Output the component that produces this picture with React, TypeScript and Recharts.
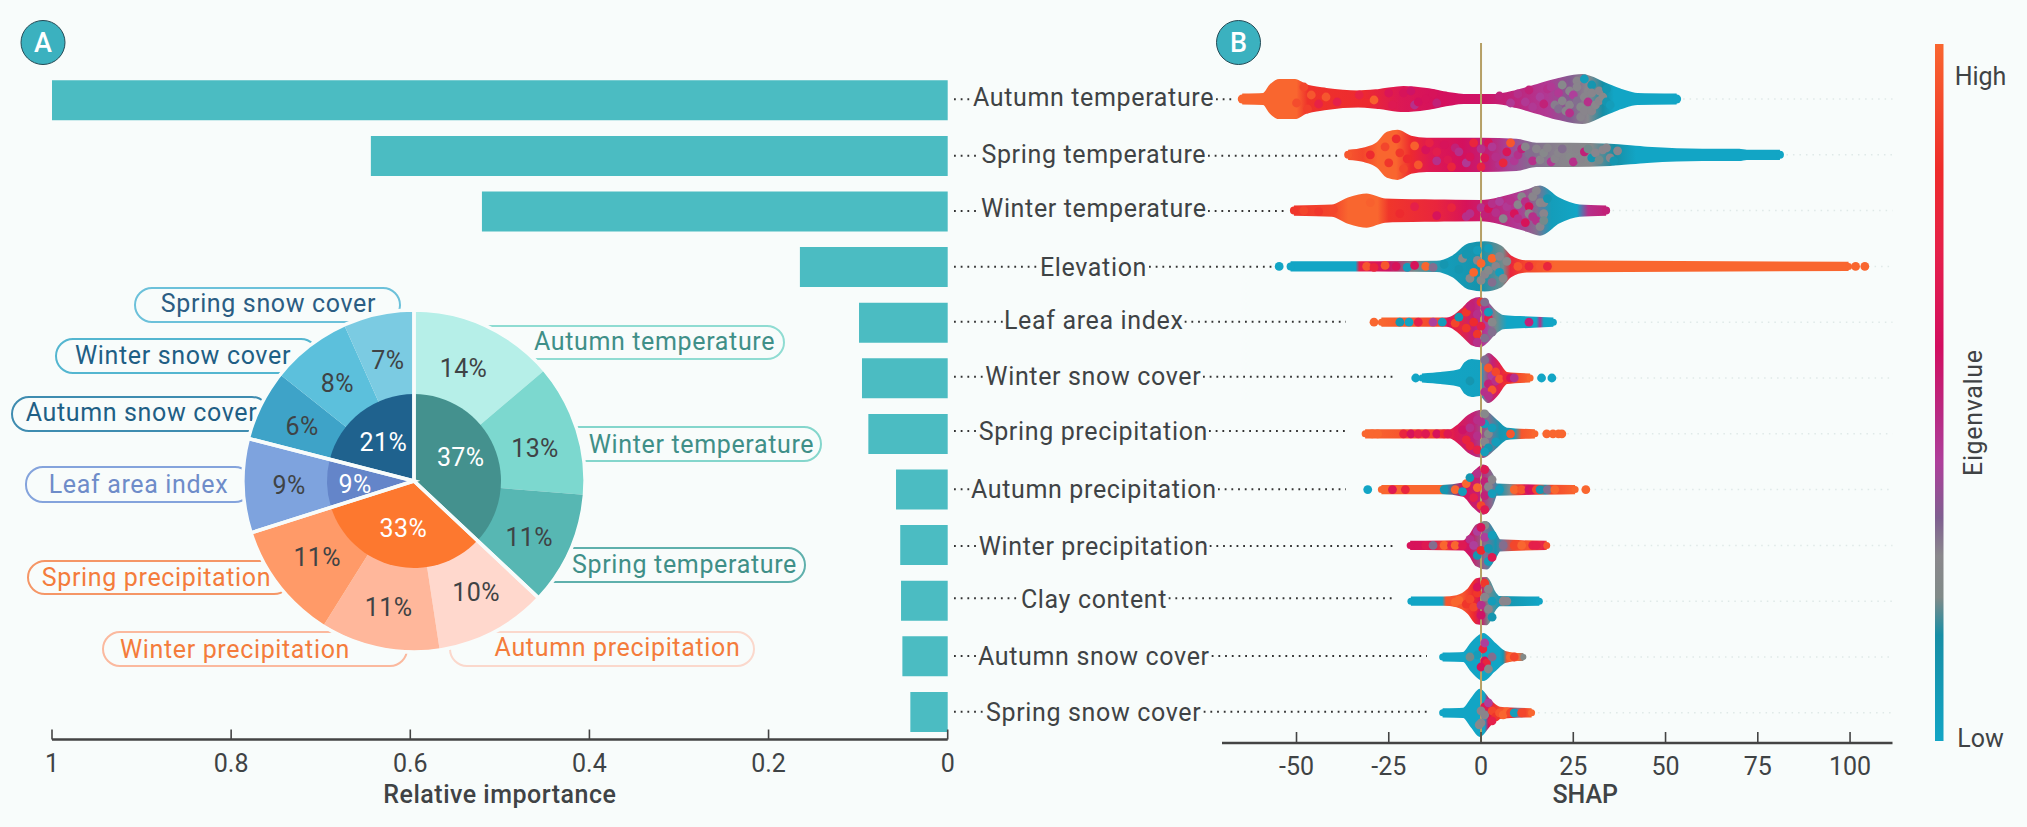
import React from 'react';
import {
  BarChart, Bar, XAxis, YAxis, PieChart, Pie, Cell, ComposedChart, Area, Scatter, ReferenceLine,
} from 'recharts';

// ---------- data ----------
const FEATURES = ['Autumn temperature','Spring temperature','Winter temperature','Elevation','Leaf area index','Winter snow cover','Spring precipitation','Autumn precipitation','Winter precipitation','Clay content','Autumn snow cover','Spring snow cover'];
const IMPORTANCE = [1, 0.644, 0.52, 0.165, 0.099, 0.0957, 0.0886, 0.0577, 0.053, 0.0521, 0.0506, 0.0417];
const IMPORTANCE_TICKS = [1, 0.8, 0.6, 0.4, 0.2, 0];
const SHAP_TICKS = [-50, -25, 0, 25, 50, 75, 100];

const PIE_NAMES = ['Autumn temperature','Winter temperature','Spring temperature','Autumn precipitation','Winter precipitation','Spring precipitation','Leaf area index','Autumn snow cover','Winter snow cover','Spring snow cover'];
const PIE_OUTER = [13.8, 12.5, 10.7, 10.6, 11.3, 11.2, 8.9, 6.7, 7.6, 6.7];
const PIE_OUTER_TEXT = ['14%','13%','11%','10%','11%','11%','9%','6%','8%','7%'];
const PIE_INNER = [37, 33.1, 8.9, 21];
const PIE_INNER_TEXT = ['37%','33%','9%','21%'];

// shap value, half thickness of the swarm in px
const SWARM_1 = [[-64.7,4.5],[-59,5],[-57,14],[-54.7,19],[-50.4,19],[-47.6,14],[-41.9,10],[-33.3,7.5],[-27.6,9],[-21,12],[-14.7,10],[-9,6],[-4.7,4],[3.9,4],[9.6,8],[15.3,14],[21,20],[27.4,24],[33.9,15],[38,9],[42.4,5],[53,4.5]];
const SWARM_2 = [[-36,4],[-32,6],[-28,12],[-25.4,22],[-22.6,24],[-19,18],[-14.7,16],[0,16],[9.6,15],[15,11],[24,11],[35,10],[45,7],[60,5],[70,5],[72,4],[81,4]];
const SWARM_3 = [[-50.7,4],[-40.4,5],[-36,12],[-31,16],[-26,11],[-12,10],[0,9.5],[6.7,14],[12.4,20],[16,24],[21,12],[26.7,5],[33.9,4]];
const SWARM_4 = [[-51.6,4],[-33,4],[-12,4.5],[-7.6,10],[-3.3,22],[1,24],[5.3,20],[8,10],[12.4,5],[99.6,3.5]];
const SWARM_5 = [[-27,3.5],[-9.3,3.5],[-7,7],[-4.8,14],[-2.5,22],[-0.3,24],[1.5,20],[3.8,11],[6,6],[10.6,5],[19.6,3.5]];
const SWARM_6 = [[-16,3.5],[-11,5],[-5.7,8],[-4.3,15],[-2.5,18],[-0.3,17],[2,24],[4.3,17],[7,5],[13.3,3.5]];
const SWARM_7 = [[-31.4,3.5],[-8.4,3.5],[-6,9],[-3.4,18],[0.6,23],[4.2,13],[7,5],[14.6,3.5]];
const SWARM_8 = [[-27,3.5],[-10.7,3.5],[-4.8,6],[-2,17],[0.6,24],[3,15],[4.2,5],[25.5,3.5]];
const SWARM_9 = [[-19.2,3.5],[-4.8,4],[-3,10],[-1.2,20],[1.5,23],[3.8,12],[5.1,5],[17.8,3.5]];
const SWARM_10 = [[-19,3.5],[-10.2,3.5],[-6.6,5],[-3.4,12],[-1.2,22],[1.5,23],[3.8,8],[5,4],[15.8,3.5]];
const SWARM_11 = [[-10.4,3.5],[-4.8,4],[-2.5,14],[0.6,23],[3.5,14],[6.5,5],[10,3],[11.5,3]];
const SWARM_12 = [[-10.4,3.5],[-4.8,4],[-2.5,14],[-0.3,23],[2.4,12],[5.1,5],[13.7,3.5]];
const SWARMS = [SWARM_1,SWARM_2,SWARM_3,SWARM_4,SWARM_5,SWARM_6,SWARM_7,SWARM_8,SWARM_9,SWARM_10,SWARM_11,SWARM_12];

// shap value, eigenvalue colour position (0 low .. 1 high)
const TONE_1 = [[-64.7,1],[-50,1],[-47,.84],[-32,.8],[-22,.64],[-10,.58],[0,.55],[10,.48],[18,.42],[24,.33],[29,.26],[33,.15],[36,0],[53,0]];
const TONE_2 = [[-36,.95],[-32,.9],[-28,1],[-23,1],[-19,.8],[-14,.65],[-5,.58],[2,.5],[8,.38],[14,.3],[22,.27],[30,.25],[36,.15],[42,0],[81,0]];
const TONE_3 = [[-50.7,.85],[-40,.9],[-36,1],[-28,1],[-25,.85],[-12,.75],[-4,.6],[3,.5],[10,.42],[15,.3],[19,.05],[26,0],[29,.45],[33.9,.5]];
const TONE_4 = [[-51.6,0],[-34,0],[-33,.7],[-25,.55],[-18,.2],[-10,.05],[0,.12],[6,.2],[8,.75],[12,.9],[20,1],[99.6,1]];
const TONE_5 = [[-27,1],[-11,.9],[-9,.6],[-6,.75],[-2,.5],[1.5,.4],[4,.2],[7,0],[15,0],[16,.45],[17,0],[19.6,0]];
const TONE_6 = [[-16,0],[0,.02],[1,.3],[3,.5],[5,.7],[7,.85],[13.3,1]];
const TONE_7 = [[-31.4,1],[-12,.9],[-7,.65],[-2,.5],[2,.3],[5,.1],[9,.05],[11,.95],[14.6,1]];
const TONE_8 = [[-27,1],[-11,1],[-9.5,.1],[-5,.6],[0,.5],[3,.3],[5,.1],[8,.25],[10,.9],[13,.55],[16,.9],[17.5,.1],[19,.9],[25.5,1]];
const TONE_9 = [[-19.2,.6],[-13,.62],[-10,.9],[-7,.65],[-3,.55],[1,.3],[4,.1],[6,.3],[9,.9],[13,.95],[17,.7],[17.8,.95]];
const TONE_10 = [[-19,0],[-10.5,0],[-9.5,.95],[-5,.95],[-2,.8],[0,.55],[2,.2],[5,.05],[6,.2],[7,.1],[15.8,0]];
const TONE_11 = [[-10.4,0],[5,0],[6,.1],[7,.95],[10,1],[11.5,.22]];
const TONE_12 = [[-10.4,0],[1,0],[2,.6],[4,.85],[6,.95],[8,.8],[10,.3],[12,.9],[13.7,1]];
const TONES = [TONE_1,TONE_2,TONE_3,TONE_4,TONE_5,TONE_6,TONE_7,TONE_8,TONE_9,TONE_10,TONE_11,TONE_12];

// individually visible points: shap value, offset from row in px, colour position
const POINTS_1 = [[-48,-12,.9],[-47,10,.88],[-50,4,.92],[-46,-4,.95],[-44,5,.72],[-42,-2,.95],[-39,3,.7],[-33,-4,.72],[-31,4,.8],[-29,1,.98],[-25,-6,.62],[-24,6,.65],[-21,-6,.6],[-19,-8,.55],[-18,6,.45],[-17,3,.58],[-15,0,.6],[-13,-5,.6],[-12,4,.5],[5,-3,.5],[8,4,.42],[10,-5,.45],[12,3,.42],[13,-9,.5],[14,8,.42],[16,-2,.4],[17,5,.5],[18,-10,.45],[19,-12,.42],[20,6,.28],[21,-6,.42],[21,10,.3],[22,-14,.25],[22,2,.27],[23,12,.27],[24,-8,.27],[24,6,.27],[24,14,.45],[25,-4,.4],[26,-18,.27],[26,-12,.27],[26,2,.3],[27,8,.25],[27,18,.27],[28,-20,.05],[28,12,.27],[28,-2,.27],[29,-8,.27],[29,3,.45],[30,-14,.1],[30,-6,.27],[30,12,.27],[31,6,.26],[32,-8,.27],[32,2,.27],[33,-2,.25],[34,-10,.1],[34,3,.1],[35,6,.05]];
const POINTS_2 = [[-30,0,.8],[-26,-8,.9],[-25,8,.85],[-23,-16,.8],[-21,14,.9],[-22,-2,.85],[-20,4,.8],[-18,-9,.98],[-17,10,.95],[-15,-5,.6],[-14,-12,.72],[-12,6,.45],[-12,-3,.68],[-10,-10,.6],[-9,5,.65],[-8,12,.75],[-7,-7,.5],[-6,-3,.45],[-4,8,.42],[-3,2,.6],[-2,-12,.75],[0,-6,.45],[0,12,.72],[1,3,.62],[2,-12,.62],[3,-8,.42],[4,2,.45],[5,10,.45],[6,8,.75],[7,-3,.62],[8,-12,.95],[9,6,.42],[10,0,.45],[11,-6,.5],[12,-8,.27],[13,-1,.3],[14,6,.45],[15,-6,.27],[16,5,.27],[17,-2,.25],[18,-7,.27],[19,7,.42],[20,4,.27],[21,-2,.27],[22,-6,.3],[23,7,.27],[24,2,.25],[25,7,.45],[26,-6,.27],[27,4,.27],[28,-3,.5],[29,-6,.2],[30,3,.1],[31,-2,.27],[32,5,.2],[33,-5,.27],[34,-7,.27],[35,3,.27],[37,-4,.27],[36,6,.1]];
const POINTS_3 = [[-48,0,.9],[-44,1,.85],[-40,-1,.9],[-30,-8,.98],[-22,3,.8],[-18,-4,.7],[-12,5,.6],[-8,-3,.75],[-4,6,.45],[-3,3,.45],[0,-3,.45],[1,4,.5],[2,-2,.6],[3,-7,.45],[4,2,.45],[5,-9,.4],[6,8,.27],[7,-4,.42],[8,-10,.45],[9,3,.6],[10,8,.45],[10,-6,.27],[11,-14,.27],[12,12,.6],[12,-9,.45],[13,-4,.6],[13,3,.27],[14,6,.45],[14,-14,.27],[15,-20,.27],[15,10,.45],[16,-8,.25],[16,16,.27],[17,3,.27],[17,-8,.27],[17,10,.2],[18,-12,.1]];
const POINTS_4 = [[-54.7,0,0],[-31,0,.95],[-29,1,.75],[-26,-1,.95],[-23,0,.6],[-20,1,.05],[-18,-1,.6],[-15,0,1],[-13,1,.3],[-10,-2,.1],[-6,3,.1],[-5,-8,.25],[-4,-12,.1],[-3,12,.25],[-1,-16,.05],[-1,-6,.27],[0,-3,1],[0,14,.25],[1,8,.27],[2,-18,.05],[2,4,.25],[3,16,.3],[3,-8,1],[-2,6,1],[4,0,.27],[5,-10,.27],[5,6,.05],[6,12,.25],[7,-5,.25],[10,0,.95],[13,0,.75],[16,0,.95],[18,0,.75],[101.5,0,1],[104,0,1]];
const POINTS_5 = [[-29,0,1],[-22,0,.1],[-19.5,0,.02],[-17,0,.7],[-13,0,.4],[-10.5,0,.05],[-7,1,.9],[-6,-5,.1],[-4,-10,.85],[-4,6,.85],[-3,-16,.5],[-2,0,.8],[-1,12,.85],[-1,-8,.45],[0,-20,.85],[1,-14,.45],[0,4,.7],[1,16,.3],[2,-4,.7],[2,-10,.05],[3,10,.3],[3,0,.25],[-1,20,.45],[1,-20,.3],[13,0,.5]];
const POINTS_6 = [[-17.7,0,0],[16.4,0,0],[19.2,0,0],[1,-18,.3],[2,-10,.95],[3,-2,.4],[2,6,.5],[1,14,.45],[3,12,.95],[4,-6,.9],[4,3,.45],[2,18,.45],[5,1,.95],[7,0,.75],[8,0,.6],[9,0,.45],[-3,3,.1]];
const POINTS_7 = [[-29.5,0,1],[-28,0,1],[-21,0,.75],[-19,0,.6],[-17,0,.7],[-15,0,.65],[-12,0,.6],[-10,0,.8],[-9,0,.65],[-5,-4,.55],[-4,6,.75],[-3,-6,.45],[-3,12,.75],[-1,-14,.45],[-1,2,.45],[-1,16,.7],[1,-20,.25],[1,-10,.05],[1,8,.27],[2,0,.25],[2,14,.1],[3,-6,.05],[4,8,.05],[1,18,.05],[0,-12,.45],[8,0,.95],[17.8,0,1],[19.5,0,1],[21,0,1],[21.9,0,1]];
const POINTS_8 = [[-30.7,0,0],[-24,0,.65],[-20.5,0,.75],[-10,0,.1],[-7,0,1],[-5,2,.05],[-4,-6,1],[-3,-12,.1],[-2,8,.7],[-1,-2,1],[-1,-16,.45],[0,16,.9],[1,-20,.65],[1,6,.5],[1,20,.65],[1,-8,.5],[2,-3,.27],[3,4,.05],[3,-10,.27],[5,0,.05],[9,0,1],[11,0,.95],[13,0,.55],[14,0,.6],[15,0,.9],[16,0,.1],[18,0,.3],[20,0,1],[28.4,0,1]];
const POINTS_9 = [[-17,0,.6],[-15,0,.65],[-13,0,.3],[-10,0,1],[-8,0,.7],[-7,0,1],[-5,0,.65],[-3,-6,.45],[-2,0,.4],[-1,-14,.4],[-1,10,.1],[0,5,.8],[1,-20,.25],[1,-8,.4],[2,3,.1],[2,16,.05],[3,-10,.05],[3,12,.65],[0,-18,.6],[6,0,.3],[9,0,.9],[11,0,1],[14,0,.7],[15,0,.7]];
const POINTS_10 = [[-7,1,1],[-6,-1,1],[-4,3,.85],[-3,-2,.9],[-2,6,.9],[-1,-8,.85],[-1,-14,.6],[0,4,.45],[0,14,.55],[1,-18,.85],[1,-4,.27],[2,-12,.27],[2,8,.27],[3,16,.1],[3,0,.05],[6,0,.27],[7,0,.27]];
const POINTS_11 = [[0.5,-8,.75],[-1,-2,.05],[1,4,.6],[1.5,6,.75],[0,10,.6],[1,-14,.4],[3,0,.3],[2,12,.25],[-3,0,.2],[8,0,1],[9,0,.9]];
const POINTS_12 = [[1,-6,.65],[1,2,.27],[0,-2,.27],[0,10,.27],[-0.5,12,.25],[3,-2,.9],[4,4,.85],[3,8,.7],[2,-10,.4],[5,0,.95],[6,2,1],[7,-1,1],[8,0,.9],[9,0,.05],[11,0,.9]];
const POINTS = [POINTS_1,POINTS_2,POINTS_3,POINTS_4,POINTS_5,POINTS_6,POINTS_7,POINTS_8,POINTS_9,POINTS_10,POINTS_11,POINTS_12];

// ---------- layout & style ----------
const FONT = 'Roboto';
const BG = '#f8fcfb';
const TEXT = '#3f4345';
const ROW_PX = 55.8;
const SPACING = 0.65;
const COLORMAP = [[0,'#12a5c5'],[.152,'#178ea5'],[.206,'#808a88'],[.266,'#8a888c'],[.32,'#7f5f90'],[.4,'#ae3f9b'],[.466,'#b82b84'],[.566,'#d20e60'],[.7,'#e5204a'],[.82,'#ee2c2a'],[1,'#f9662f']];

const hex = (s) => [1, 3, 5].map((i) => parseInt(s.slice(i, i + 2), 16));
const tone = (v) => {
  for (let i = 1; i < COLORMAP.length; i++) {
    const [a, ca] = COLORMAP[i - 1];
    const [b, cb] = COLORMAP[i];
    if (v <= b) {
      const t = (v - a) / (b - a);
      const A = hex(ca), B = hex(cb);
      return `rgb(${A.map((c, k) => Math.round(c + (B[k] - c) * t)).join(',')})`;
    }
  }
  return COLORMAP[COLORMAP.length - 1][1];
};

const ROW_END = [1235,1340,1288,1279,1346,1395,1346,1346,1395,1395,1427,1427];
const LABEL_LEFT = [974,982.7,982.7,1041,1005.7,986.7,980.7,972.7,980.7,1022.3,979,986.7];
const LABEL_RIGHT = [1213,1205,1205,1146,1181.7,1200,1206,1215,1206.7,1165.7,1208.7,1200.7];
const DOT_NUDGE = [-0.8,0,-0.3,-0.2,-0.8,-1.4,-2.7,0,1.1,-2.2,-0.1,0];
const TEXT_NUDGE = [6,7.6,6,8.8,6.2,6.9,6.3,9,10.4,7.2,9.2,9.3];

const OUTER_COLORS = ['#b6efe8','#7cd8cf','#57b7b3','#ffd8cd','#ffb79b','#ff9a68','#7ea3de','#3ea3c8','#5cc0dc','#7bcbe2'];
const INNER_COLORS = ['#44918e','#fd782f','#6485c9','#1f628e'];
const OUTER_NUDGE = [[-3,0],[2,5],[1,5],[4,0],[0,4],[2,-1],[0,0],[0,1],[0,1],[0,1]];
const INNER_NUDGE = [[-1,-3],[0,0],[1,1],[0,1]];
const PILL_BOX = [[470,326,314,33],[500,427,321,34],[500,548,305,34],[450,632,304,34],[103,632,304,34],[28,561,263,33],[26,467,226,35],[12,397,257,34],[56,339,262,34],[135,288,265,34]];
const PILL_TEXT_X = [654.5,701.5,684.5,617.5,235,156.5,138.5,141.5,183,268.5];
const PILL_TEXT_Y = [341,444,564,647,649,577,484,412,355,303];
const PILL_STROKE = ['#8fdcd2','#84d6cc','#5fb0ac','#fbd8cc','#fbb99e','#f59666','#84a3dc','#3f8cb0','#54b6d0','#6cc1da'];
const PILL_FILL_TEXT = ['#3f8f88','#3f8f88','#3f8f88','#f47c3c','#f47c3c','#f47c3c','#6e8cc9','#1f5f85','#1f5f85','#2b5d83'];

const RADIAN = Math.PI / 180;
const pctLabel = (texts, radii, nudges, color) => (p) => {
  const r = radii[p.index];
  const x = p.cx + r * Math.cos(-p.midAngle * RADIAN) + nudges[p.index][0];
  const y = p.cy + r * Math.sin(-p.midAngle * RADIAN) + nudges[p.index][1];
  return (
    <text x={x} y={y} dy="0.36em" textAnchor="middle" fontFamily={FONT} fontSize={25} letterSpacing={0.4} fill={color}>{texts[p.index]}</text>
  );
};

const barData = FEATURES.map((name, i) => ({ name, value: IMPORTANCE[i] }));
const outerData = PIE_NAMES.map((name, i) => ({ name, value: PIE_OUTER[i] }));
const innerData = PIE_INNER.map((value, i) => ({ name: `g${i}`, value }));
const pointData = POINTS.flatMap((row, i) => row.map(([x, off, c]) => ({ x, y: i + off / ROW_PX, c })));
const tipData = SWARMS.flatMap((row, i) => {
  const t = TONES[i];
  const a = row[0], b = row[row.length - 1];
  return [
    { x: a[0], y: i, c: t[0][1], r: a[1] },
    { x: b[0], y: i, c: t[t.length - 1][1], r: b[1] },
  ];
});

const axisTick = (axisY, tickLen) => (p) => (
  <g>
    <line x1={p.x} x2={p.x} y1={axisY - tickLen} y2={axisY} stroke="#444" strokeWidth={1.6} />
    <text x={p.x} y={axisY + 32} textAnchor="middle" fontFamily={FONT} fontSize={25} fill={TEXT}>{String(p.payload.value)}</text>
  </g>
);

const featureTick = (p) => {
  const i = p.index;
  const y = p.y + DOT_NUDGE[i];
  return (
    <g>
      <line x1={954} x2={LABEL_LEFT[i] - 2} y1={y} y2={y} stroke="#333" strokeWidth={1.9} strokeDasharray="1.8 4.9" />
      <line x1={LABEL_RIGHT[i] + 3} x2={ROW_END[i]} y1={y} y2={y} stroke="#333" strokeWidth={1.9} strokeDasharray="1.8 4.9" />
      <text x={(LABEL_LEFT[i] + LABEL_RIGHT[i]) / 2} y={p.y + TEXT_NUDGE[i]} textAnchor="middle" fontFamily={FONT} fontSize={25} letterSpacing={SPACING} fill={TEXT}>{FEATURES[i]}</text>
    </g>
  );
};

const Layer = ({ children }) => <div style={{ position: 'absolute', left: 0, top: 0 }}>{children}</div>;
const Badge = ({ cx, label }) => (
  <g>
    <circle cx={cx} cy={42.5} r={22} fill="#3bb1bf" stroke="#234a55" strokeWidth={1} />
    <text x={cx} y={52} textAnchor="middle" fontFamily={FONT} fontSize={27} fontWeight={500} fill="#fff">{label}</text>
  </g>
);

export default function App() {
  return (
    <div style={{ position: 'fixed', left: 0, top: 0, width: 2027, height: 827, background: BG, overflow: 'hidden' }}>
      <Layer>
        <BarChart width={1450} height={827} data={barData} layout="vertical"
          margin={{ top: 72.3, right: 0, bottom: 0, left: 52 }}>
          <XAxis type="number" dataKey="value" domain={[0, 1]} reversed ticks={IMPORTANCE_TICKS} interval={0} height={87.5}
            axisLine={{ stroke: '#444', strokeWidth: 2.4 }} tickLine={false}
            tick={axisTick(739.5, 10)}
            label={{ value: 'Relative importance', position: 'insideBottom', offset: 24, fontFamily: FONT, fontSize: 25, fontWeight: 500, letterSpacing: 0.5, fill: TEXT }} />
          <YAxis type="category" dataKey="name" orientation="right" width={502.3} interval={0} axisLine={false} tickLine={false} tick={featureTick} />
          <Bar dataKey="value" fill="#4bbcc2" barSize={40} isAnimationActive={false} />
        </BarChart>
      </Layer>

      <Layer>
        <svg width={2027} height={827} style={{ display: 'block' }}>
          {PIE_NAMES.map((name, i) => (
            <g key={name}>
              <rect x={PILL_BOX[i][0]} y={PILL_BOX[i][1]} width={PILL_BOX[i][2]} height={PILL_BOX[i][3]} rx={17} fill={BG} stroke={PILL_STROKE[i]} strokeWidth={2} />
              <text x={PILL_TEXT_X[i]} y={PILL_TEXT_Y[i] + 8.5} textAnchor="middle" fontFamily={FONT} fontSize={25} letterSpacing={SPACING} fill={PILL_FILL_TEXT[i]}>{name}</text>
            </g>
          ))}
        </svg>
      </Layer>

      <Layer>
        <PieChart width={2027} height={827} margin={{ top: 0, right: 0, bottom: 0, left: 0 }}>
          <Pie data={outerData} dataKey="value" cx={414} cy={481} innerRadius={80} outerRadius={170} startAngle={90} endAngle={-270}
            stroke="none" isAnimationActive={false} labelLine={false} label={pctLabel(PIE_OUTER_TEXT, PIE_OUTER.map(() => 125), OUTER_NUDGE, TEXT)}>
            {outerData.map((d, i) => <Cell key={d.name} fill={OUTER_COLORS[i]} />)}
          </Pie>
          <Pie data={innerData} dataKey="value" cx={414} cy={481} innerRadius={0} outerRadius={87} startAngle={90} endAngle={-270}
            stroke="none" isAnimationActive={false} labelLine={false} label={pctLabel(PIE_INNER_TEXT, [52, 48, 60, 50], INNER_NUDGE, '#fff')}>
            {innerData.map((d, i) => <Cell key={d.name} fill={INNER_COLORS[i]} />)}
          </Pie>
          <Pie data={innerData} dataKey="value" cx={414} cy={481} innerRadius={0} outerRadius={171} startAngle={90} endAngle={-270}
            fill="none" stroke="#f8fcfb" strokeWidth={3.5} isAnimationActive={false}>
            {innerData.map((d) => <Cell key={d.name} fill="none" />)}
          </Pie>
        </PieChart>
      </Layer>

      <Layer>
        <ComposedChart width={2027} height={827} margin={{ top: 43, right: 134.5, bottom: 0, left: 1222 }}>
          <defs>
            {TONES.map((t, i) => {
              const lo = t[0][0], hi = t[t.length - 1][0];
              return (
                <linearGradient key={i} id={`swarm${i}`} x1="0" x2="1" y1="0" y2="0">
                  {t.map(([x, c], k) => <stop key={k} offset={(x - lo) / (hi - lo)} stopColor={tone(c)} />)}
                </linearGradient>
              );
            })}
          </defs>
          <XAxis type="number" dataKey="x" domain={[-70.19, 111.5]} allowDataOverflow ticks={SHAP_TICKS} interval={0} height={84}
            axisLine={{ stroke: '#444', strokeWidth: 2.4 }} tickLine={false}
            tick={axisTick(743, 11)}
            label={{ value: 'SHAP', position: 'insideBottom', offset: 24, dx: 28, fontFamily: FONT, fontSize: 25, fontWeight: 500, fill: TEXT }} />
          <YAxis type="number" dataKey="y" domain={[-1.0036, 11.541]} reversed hide allowDataOverflow />
          {SWARMS.map((row, i) => (
            <ReferenceLine key={`f${i}`} segment={[{ x: row[row.length - 1][0], y: i }, { x: 111.5, y: i }]} stroke="#dfe9e8" strokeWidth={1.5} strokeDasharray="1.5 5" />
          ))}
          <ReferenceLine x={0} stroke="#b6a066" strokeWidth={2} />
          {SWARMS.map((row, i) => (
            <Area key={i} data={row.map(([x, h]) => ({ x, band: [i - h / ROW_PX, i + h / ROW_PX] }))} dataKey="band" type="monotone"
              fill={`url(#swarm${i})`} fillOpacity={1} stroke={`url(#swarm${i})`} strokeWidth={2.2} dot={false} activeDot={false} isAnimationActive={false} />
          ))}
          <Scatter data={tipData} isAnimationActive={false}
            shape={(p) => <circle cx={p.cx} cy={p.cy} r={p.payload.r} fill={tone(p.payload.c)} />} />
          <Scatter data={pointData} isAnimationActive={false}
            shape={(p) => <circle cx={p.cx} cy={p.cy} r={4.4} fill={tone(p.payload.c)} />} />
        </ComposedChart>
      </Layer>

      <Layer>
        <svg width={2027} height={827} style={{ display: 'block' }}>
          <defs>
            <linearGradient id="bar" x1="0" x2="0" y1="1" y2="0">
              {COLORMAP.map(([v, c]) => <stop key={v} offset={v} stopColor={c} />)}
            </linearGradient>
          </defs>
          <rect x={1935} y={44} width={8.5} height={697} fill="url(#bar)" />
          <text x={1980.5} y={84.5} textAnchor="middle" fontFamily={FONT} fontSize={25} fill={TEXT}>High</text>
          <text x={1980.5} y={746.5} textAnchor="middle" fontFamily={FONT} fontSize={25} fill={TEXT}>Low</text>
          <text transform="translate(1982,412.7) rotate(-90)" textAnchor="middle" fontFamily={FONT} fontSize={25} letterSpacing={SPACING} fill={TEXT}>Eigenvalue</text>
          <Badge cx={43} label="A" />
          <Badge cx={1238.5} label="B" />
        </svg>
      </Layer>
    </div>
  );
}
